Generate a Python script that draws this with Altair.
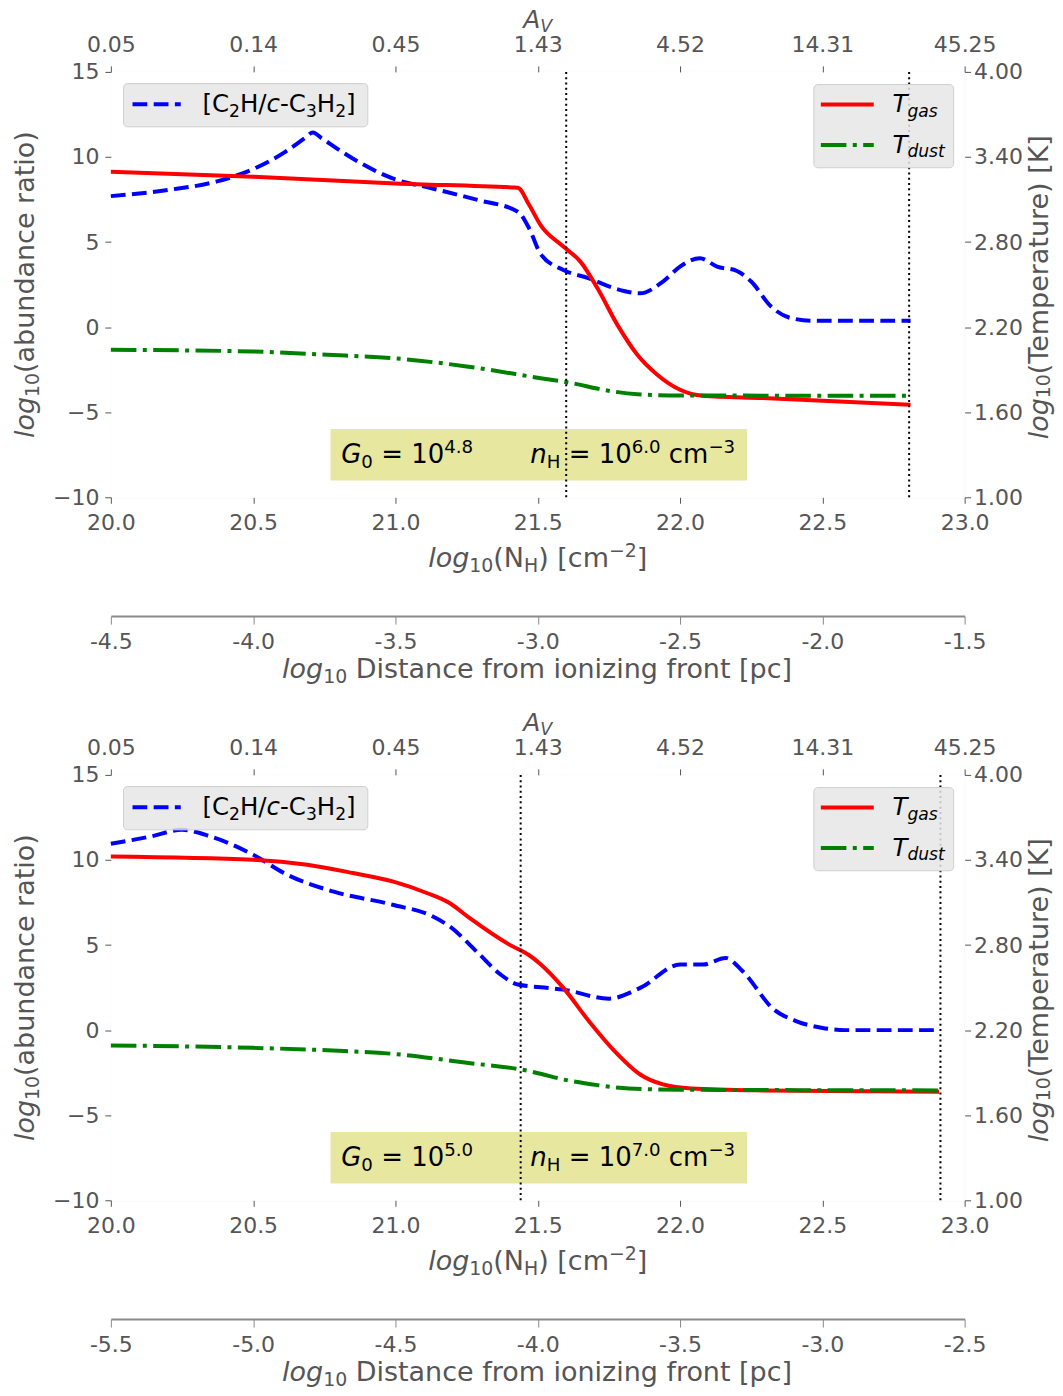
import json
import pandas as pd
import altair as alt

FONT = "DejaVu Sans"
GREY = "#555555"

# ---------------- data ----------------
x_ticks = [20.0, 20.5, 21.0, 21.5, 22.0, 22.5, 23.0]
av_labels = ["0.05", "0.14", "0.45", "1.43", "4.52", "14.31", "45.25"]
dist_labels_1 = ["-4.5", "-4.0", "-3.5", "-3.0", "-2.5", "-2.0", "-1.5"]
dist_labels_2 = ["-5.5", "-5.0", "-4.5", "-4.0", "-3.5", "-3.0", "-2.5"]
left_ticks = [-10, -5, 0, 5, 10, 15]
right_ticks = [1.0, 1.6, 2.2, 2.8, 3.4, 4.0]

# panel 1 (G0 = 10^4.8, nH = 10^6.0)
p1_ratio_N = [20.00, 20.20, 20.37, 20.50, 20.61, 20.68, 20.71, 20.74, 20.85, 20.99, 21.13, 21.29,
              21.43, 21.47, 21.51, 21.59, 21.68, 21.77, 21.86, 21.94, 22.00, 22.07, 22.13,
              22.20, 22.25, 22.32, 22.39, 22.47, 22.81]
p1_ratio = [7.7, 8.06, 8.55, 9.29, 10.27, 11.09, 11.44, 11.11, 9.91, 8.74, 8.15, 7.47,
            6.78, 5.8, 4.3, 3.36, 2.87, 2.28, 1.99, 2.68, 3.56, 4.05, 3.56,
            3.30, 2.68, 1.21, 0.53, 0.37, 0.37]
p1_tgas_N = [20.00, 20.50, 21.00, 21.41, 21.43, 21.47, 21.51, 21.59, 21.65, 21.71, 21.78,
             21.85, 21.92, 22.00, 22.08, 22.29, 22.81]
p1_tgas = [3.296, 3.261, 3.213, 3.185, 3.183, 3.061, 2.92, 2.768, 2.662, 2.474, 2.216,
           2.005, 1.864, 1.758, 1.716, 1.70, 1.653]
p1_tdust_N = [20.00, 20.50, 20.76, 20.99, 21.25, 21.51, 21.62, 21.73, 21.85, 22.00, 22.81]
p1_tdust = [2.04, 2.028, 2.005, 1.981, 1.923, 1.84, 1.805, 1.758, 1.727, 1.718, 1.716]
p1_vlines = [21.60, 22.805]

# panel 2 (G0 = 10^5.0, nH = 10^7.0)
p2_ratio_N = [20.00, 20.14, 20.25, 20.35, 20.50, 20.62, 20.78, 20.99, 21.13, 21.19, 21.29, 21.37,
              21.43, 21.51, 21.59, 21.75, 21.86, 22.00, 22.08, 22.16, 22.22, 22.33, 22.41,
              22.50, 22.58, 22.91]
p2_ratio = [10.95, 11.38, 11.77, 11.38, 10.31, 9.13, 8.15, 7.37, 6.69, 6.10, 4.54, 3.26,
            2.68, 2.52, 2.38, 1.85, 2.48, 3.85, 3.85, 4.24, 3.46, 1.21, 0.52,
            0.13, 0.0, 0.0]
p2_tgas_N = [20.00, 20.50, 20.69, 20.85, 20.99, 21.11, 21.19, 21.26, 21.40, 21.47, 21.51,
             21.59, 21.68, 21.77, 21.86, 21.94, 22.04, 22.29, 22.91]
p2_tgas = [3.425, 3.401, 3.366, 3.308, 3.249, 3.167, 3.096, 2.991, 2.803, 2.728, 2.665,
           2.498, 2.263, 2.052, 1.887, 1.817, 1.789, 1.775, 1.765]
p2_tdust_N = [20.00, 20.50, 20.78, 20.99, 21.25, 21.47, 21.51, 21.59, 21.71, 21.82, 22.00, 22.91]
p2_tdust = [2.092, 2.075, 2.056, 2.033, 1.97, 1.911, 1.892, 1.852, 1.812, 1.789, 1.78, 1.775]
p2_vlines = [21.44, 22.915]

# ---------------- rich text helper ----------------
EM = {" ": .318, "(": .390, ")": .390, "[": .390, "]": .390, "/": .337, "-": .361,
      "\u2212": .838, "=": .838, ".": .318,
      "A": .684, "C": .698, "D": .770, "G": .775, "H": .752, "K": .656, "N": .748,
      "T": .611, "V": .684,
      "a": .613, "b": .635, "c": .550, "d": .635, "e": .615, "f": .352, "g": .635,
      "i": .278, "l": .278, "m": .974, "n": .634, "o": .612, "p": .635, "r": .411,
      "s": .521, "t": .392, "u": .634, "z": .525}
for _d in "0123456789":
    EM[_d] = .636


def text_width(s, size):
    return sum(EM.get(ch, 0.6) for ch in s) * size


def rich(pieces, size, x, y, angle=0, center=False, color="black", sub=0.18):
    items = []
    for t, k in pieces:
        small = k in ("b", "bi", "p")
        s = size * 0.7 if small else size
        if k in ("b", "bi"):
            shift = sub * size
        elif k == "p":
            shift = -0.38 * size
        else:
            shift = 0.0
        style = "italic" if k in ("i", "bi") else "normal"
        lead = len(t) - len(t.lstrip(" "))
        items.append((t.strip(" "), s, shift, style, text_width(t, s),
                      text_width(" " * lead, s)))
    total = sum(it[4] for it in items)
    off = -total / 2 if center else 0.0
    rows = []
    for t, s, shift, style, w, lw in items:
        pos = off + lw
        if angle == 0:
            px, py = x + pos, y + shift
        else:
            px, py = x + shift, y - pos
        rows.append(dict(t=t, x=px, y=py, s=s, st=style, a=angle, c=color))
        off += w
    return rows


def text_layers(rows):
    df = pd.DataFrame(rows)
    out = []
    for style in ["normal", "italic"]:
        sub = df[df["st"] == style]
        if len(sub) == 0:
            continue
        out.append(
            alt.Chart(sub).mark_text(align="left", baseline="alphabetic", font=FONT,
                                     fontStyle=style).encode(
                x=alt.X("x:Q", scale=None, axis=None),
                y=alt.Y("y:Q", scale=None, axis=None),
                text="t:N",
                size=alt.Size("s:Q", scale=None, legend=None),
                angle=alt.Angle("a:Q", scale=None),
                color=alt.Color("c:N", scale=None, legend=None),
            )
        )
    return out


dummy = pd.DataFrame({"d": [0]})


def vrect(x1, x2, y1, y2, **mk):
    return alt.Chart(dummy).mark_rect(**mk).encode(
        x=alt.value(x1), x2=alt.value(x2), y=alt.value(y1), y2=alt.value(y2))


def hrule(x1, x2, y, **mk):
    return alt.Chart(dummy).mark_rule(**mk).encode(
        x=alt.value(x1), x2=alt.value(x2), y=alt.value(y))


W, H = 855, 426
CX = W / 2
TICK_FS = 22

BLUE_DASH = [14.8, 6.4]
GREEN_DASH = [25.6, 6.4, 4, 6.4]


def panel(rN, rV, gN, gV, dN, dV, vlines, dist_labels, g0, nh):
    def xs():
        return alt.Scale(domain=[20, 23], nice=False, zero=False)

    base = dict(labelFont=FONT, labelFontSize=TICK_FS, labelColor=GREY, tickColor=GREY,
                tickWidth=1, labelFlush=False, labelOverlap=False)
    ax_bottom = alt.Axis(orient="bottom", values=x_ticks, format=".1f", grid=True,
                         gridColor="white", gridWidth=1.5, tickSize=6, labelPadding=8.9,
                         domain=False, **base)
    ax_top = alt.Axis(orient="top", values=x_ticks, grid=False, tickSize=6, labelPadding=9.9,
                      domain=False,
                      labelExpr=json.dumps(av_labels) + "[round((datum.value - 20) * 2)]",
                      **base)
    ax_dist = alt.Axis(orient="bottom", values=x_ticks, grid=False, tickSize=8,
                       labelPadding=7.9, offset=119, domain=True, domainColor="#8a8a8a",
                       domainWidth=2,
                       labelExpr=json.dumps(dist_labels) + "[round((datum.value - 20) * 2)]",
                       **dict(base, tickColor="#8a8a8a"))
    ax_left = alt.Axis(orient="left", values=left_ticks, grid=True, gridColor="white",
                       gridWidth=1.5, tickSize=6, labelPadding=6, domain=False, **base)
    ax_right = alt.Axis(orient="right", values=right_ticks, format=".2f", grid=False,
                        tickSize=6, labelPadding=3, domain=False, **base)

    ratio_df = pd.DataFrame({"N": rN, "v": rV})
    gas_df = pd.DataFrame({"N": gN, "v": gV})
    dust_df = pd.DataFrame({"N": dN, "v": dV})
    vl_df = pd.DataFrame({"N": vlines})

    box = vrect(220, 637, 357.5, 409.3, fill="#e3e38f", fillOpacity=0.85)
    # invisible extenders that pin the layout bounds (plot area at the reference offset)
    ext_l = hrule(-102, -101, 200, color="white", strokeOpacity=0, strokeWidth=0.5)
    ext_t = hrule(CX, CX + 1, -80, color="white", strokeOpacity=0, strokeWidth=0.5)
    ext_r = hrule(949.5, 950, 200, color="white", strokeOpacity=0, strokeWidth=0.5)

    blue = alt.Chart(ratio_df).mark_line(color="#0000ff", strokeWidth=4, strokeDash=BLUE_DASH,
                                         interpolate="monotone").encode(
        x=alt.X("N:Q", scale=xs(), axis=ax_bottom, title=None),
        y=alt.Y("v:Q", scale=alt.Scale(domain=[-10, 15], nice=False, zero=False),
                axis=ax_left, title=None),
    )
    red = alt.Chart(gas_df).mark_line(color="#ff0000", strokeWidth=4,
                                      interpolate="monotone").encode(
        x=alt.X("N:Q", scale=xs(), axis=ax_top, title=None),
        y=alt.Y("v:Q", scale=alt.Scale(domain=[1, 4], nice=False, zero=False),
                axis=ax_right, title=None),
    )
    green = alt.Chart(dust_df).mark_line(color="#008000", strokeWidth=4, strokeDash=GREEN_DASH,
                                         interpolate="monotone").encode(
        x=alt.X("N:Q", scale=xs(), axis=ax_dist, title=None),
        y=alt.Y("v:Q", scale=alt.Scale(domain=[1, 4], nice=False, zero=False),
                axis=None, title=None),
    )
    vl = alt.Chart(vl_df).mark_rule(color="black", strokeWidth=2, strokeDash=[2, 3.3]).encode(
        x=alt.X("N:Q", scale=xs(), axis=None, title=None)
    )

    leg1 = vrect(12.7, 257.3, 11.7, 55, fill="#e6e6e6", fillOpacity=0.85, stroke="#cfcfcf",
                 strokeWidth=1, cornerRadius=4)
    leg2 = vrect(704, 844, 12.7, 96, fill="#e6e6e6", fillOpacity=0.85, stroke="#cfcfcf",
                 strokeWidth=1, cornerRadius=4)
    r1 = hrule(21.7, 70, 32.3, color="#0000ff", strokeWidth=4, strokeDash=BLUE_DASH)
    r2 = hrule(711, 764, 32.7, color="#ff0000", strokeWidth=4)
    r3 = hrule(711, 764, 73.3, color="#008000", strokeWidth=4, strokeDash=GREEN_DASH)

    rows = []
    # axis titles
    rows += rich([("A", "i"), ("V", "bi")], 25, CX, -43.5, center=True, color=GREY, sub=0.13)
    rows += rich([("log", "i"), ("10", "b"), ("(N", "r"), ("H", "b"), (") [cm", "r"),
                  ("\u22122", "p"), ("]", "r")], 27, CX, 495.8, center=True, color=GREY)
    rows += rich([("log", "i"), ("10", "b"), (" Distance from ionizing front [pc]", "r")],
                 27, CX, 607, center=True, color=GREY)
    rows += rich([("log", "i"), ("10", "b"), ("(abundance ratio)", "r")], 27, -76.7, H / 2,
                 angle=270, center=True, color=GREY)
    rows += rich([("log", "i"), ("10", "b"), ("(Temperature) [K]", "r")], 27, 938.5, H / 2,
                 angle=270, center=True, color=GREY, sub=0.08)
    # legends
    rows += rich([("[C", "r"), ("2", "b"), ("H/", "r"), ("c", "i"), ("-C", "r"), ("3", "b"),
                  ("H", "r"), ("2", "b"), ("]", "r")], 24.5, 91.7, 40.3)
    rows += rich([("T", "i"), ("gas", "bi")], 24.5, 782.7, 40.3)
    rows += rich([("T", "i"), ("dust", "bi")], 24.5, 782.7, 80.8)
    # annotation
    rows += rich([("G", "i"), ("0", "b"), (" = 10", "r"), (g0, "p")], 26, 230.7, 391.7)
    rows += rich([("n", "i"), ("H", "b"), (" = 10", "r"), (nh, "p"), (" cm", "r"),
                  ("\u22123", "p")], 26, 420, 391.7)

    layers = [box, ext_l, ext_t, ext_r, blue, red, green, vl, leg1, leg2, r1, r2, r3]
    layers += text_layers(rows)
    return alt.layer(*layers).resolve_scale(x="independent", y="independent").properties(
        width=W, height=H)


p1 = panel(p1_ratio_N, p1_ratio, p1_tgas_N, p1_tgas, p1_tdust_N, p1_tdust, p1_vlines,
           dist_labels_1, "4.8", "6.0")
p2 = panel(p2_ratio_N, p2_ratio, p2_tgas_N, p2_tgas, p2_tdust_N, p2_tdust, p2_vlines,
           dist_labels_2, "5.0", "7.0")

chart = alt.vconcat(p1, p2, spacing=278, bounds="flush").properties(
    padding={"top": -18, "left": 0, "right": -5.5, "bottom": 0}
).configure_view(fill="#dddddd", strokeWidth=0).configure(background="white")

chart.save("out.html", embed_options={"renderer": "svg", "actions": False})
